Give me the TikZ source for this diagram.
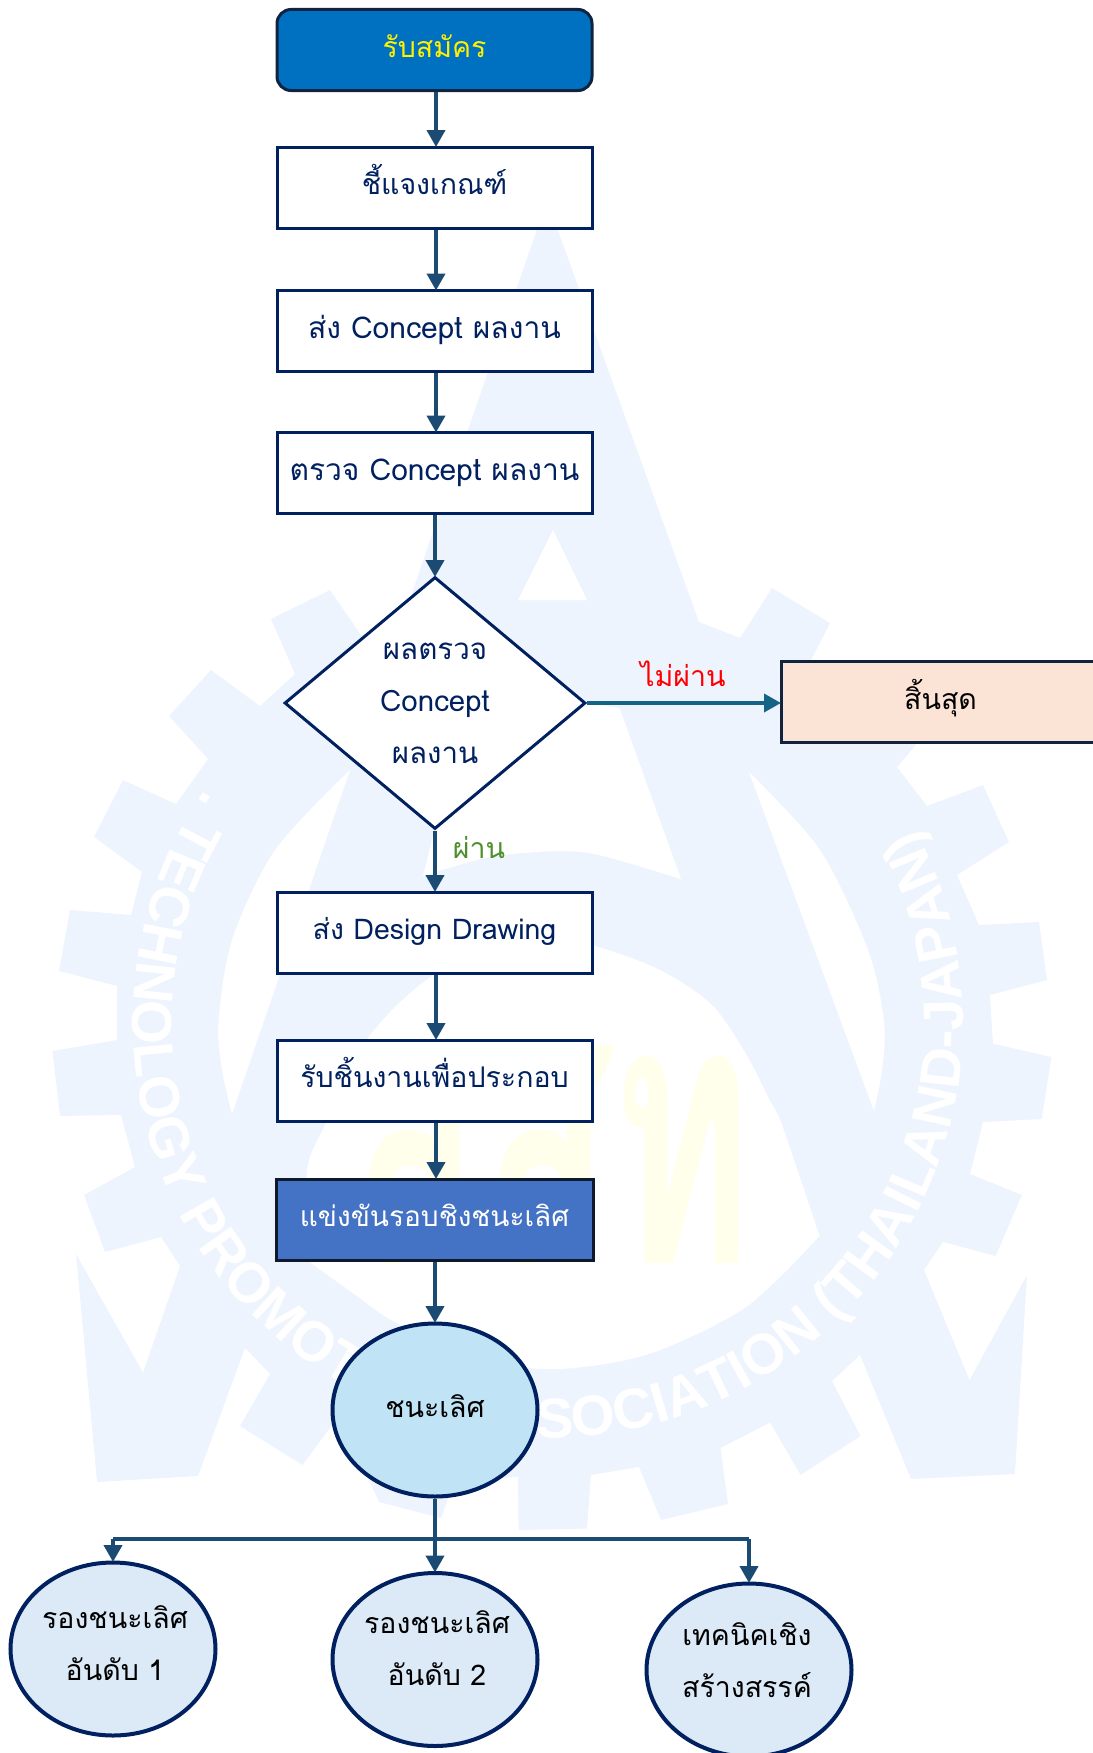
\documentclass[tikz,border=0pt]{standalone}
\usepackage{fontspec}
\usetikzlibrary{arrows.meta,shapes.geometric,decorations.text}
\newfontfamily\thaifont[Script=Thai]{Loma}
\newfontfamily\wmfont{Liberation Sans Bold}
\definecolor{navy}{HTML}{002060}
\definecolor{arrowblue}{HTML}{1B4A72}
\definecolor{tealarrow}{HTML}{156485}
\definecolor{wmblue}{HTML}{EEF4FE}
\definecolor{wmyellow}{HTML}{FFFFEC}
\definecolor{startfill}{HTML}{0070C0}
\definecolor{startedge}{HTML}{10243F}
\definecolor{endfill}{HTML}{FBE3D6}
\definecolor{finalfill}{HTML}{4472C4}
\definecolor{finaledge}{HTML}{0E1A2B}
\definecolor{winfill}{HTML}{C0E4F5}
\definecolor{subfill}{HTML}{DCE9F7}
\definecolor{passgreen}{HTML}{4C8F2B}
\newcommand{\stacked}[3]{\raisebox{#2}[0pt][0pt]{\makebox[0pt]{\hspace*{#1}\begin{tabular}{@{}c@{}}#3\end{tabular}}}}
\tikzset{
  base/.style={font=\fontsize{28.5}{52}\selectfont\thaifont,inner sep=0pt},
  oneline/.style={text height=24pt,text depth=9.4pt},
  procbox/.style={base,oneline,draw=navy,line width=3pt,fill=white,text=navy,minimum width=315pt,minimum height=81pt},
  wide/.style={font=\fontsize{30}{52}\selectfont\thaifont},
  startbox/.style={procbox,rounded corners=14pt,fill=startfill,draw=startedge,text=yellow},
  endbox/.style={procbox,fill=endfill,draw=startedge,text=black,minimum width=319pt},
  finalbox/.style={procbox,fill=finalfill,draw=finaledge,line width=3pt,text=white,minimum width=317pt,font=\fontsize{28}{52}\selectfont\thaifont},
  decision/.style={base,shape=diamond,aspect=1.19,draw=navy,line width=3pt,fill=white,text=navy,minimum width=301pt,minimum height=252pt,font=\fontsize{29.5}{52}\selectfont\thaifont},
  oval/.style={base,shape=ellipse,draw=navy,line width=4pt,text=black,minimum width=205pt,minimum height=173pt},
  flow/.style={arrowblue,line width=4pt,shorten >=-1.5pt,-{Triangle[width=18pt,length=17pt]}},
  flowteal/.style={tealarrow,line width=3.6pt,shorten >=-1.5pt,-{Triangle[width=18pt,length=17pt]}},
  branch/.style={arrowblue,line width=3.6pt,line join=miter},
  lab/.style={font=\fontsize{28.5}{30}\selectfont\thaifont,inner sep=0pt}
}
\begin{document}
\begin{tikzpicture}[x=1pt,y=-1pt]
\useasboundingbox (0,0) rectangle (1092,1753);
% --- watermark ---
\fill[wmblue] (547,200) -- (669.5,540) -- (699,622) -- (740,638) -- (772,588) -- (830,623) -- (810.6,661) -- (850,700) -- (916,745) -- (897,767) -- (927,806) -- (983,785) -- (1009,842) -- (957,875) -- (979,925) -- (1039,922) -- (1047,980) -- (990,995) -- (993,1043.6) -- (1051.6,1057) -- (1041.6,1119) -- (983,1122) -- (970,1174) -- (1022,1195) -- (995.6,1256) -- (943,1242) -- (924,1270) -- (969.5,1380) -- (1027,1275) -- (1015,1474) -- (911,1479) -- (860,1355) -- (832,1381) -- (860.6,1436) -- (800.6,1475) -- (770,1422.5) -- (720.6,1448) -- (728,1504) -- (661,1520) -- (639,1467) -- (591,1475) -- (587,1528.6) -- (518.6,1530) -- (518,1477) -- (455,1480) -- (441,1518) -- (379,1502) -- (355,1450) -- (350,1430) -- (332,1425) -- (302.5,1465) -- (240,1426) -- (270,1374) -- (245,1348) -- (198,1476) -- (97,1482) -- (76,1254) -- (143,1372.5) -- (180,1266) -- (161,1237) -- (105,1252) -- (84,1195) -- (135,1167) -- (121,1115) -- (60,1116) -- (52.5,1051) -- (117,1040) -- (117,986) -- (59,971) -- (70,910) -- (131,915) -- (142,872) -- (94,837) -- (123,780) -- (176,804) -- (208,759) -- (169,716) -- (211,670) -- (260,706) -- (295,674) -- (271,619) -- (330,590) -- (361,635) -- (400,640) -- (410,610) -- (413,590) -- cycle;
\fill[white] (518,600) -- (587,600) -- (553,530) -- cycle;
\fill[white] plot[smooth] coordinates {(350,770) (275,850) (232,940) (218.6,1022) (222,1070) (232,1114)} -- cycle;
\fill[white] plot[smooth] coordinates {(749,772) (820,850) (868,950) (884,1022) (882,1070) (874,1111)} -- cycle;
\fill[white] (423,876) -- (435,828) -- (470,720) -- (585,703) -- (619.5,708) -- (681,879) -- plot[smooth] coordinates {(681,879) (603,856) (560,851) (490,857) (423,876)} -- cycle;
\fill[white] plot[smooth] coordinates {(819.5,1236) (782,1125) (769.5,1100) (746,1054) (711,1004) (657,968.6) (585.6,943.6) (520,938) (432,976) (368,1038) (327,1121) (307,1171) (311,1263)} -- plot[smooth] coordinates {(311,1263) (357,1296) (393,1321) (470,1358) (557,1369) (650,1353.6) (746,1307) (819.5,1236)} -- cycle;
\node[font=\fontsize{370}{370}\selectfont\thaifont\bfseries,text=wmyellow,anchor=base,inner sep=0pt] (wmletters) at (551,1263) {\scalebox{0.58}[1]{สสท}};
\path[decorate,decoration={text along path,text align=center,
  text={|\wmfont\fontsize{56.5}{56.5}\selectfont\color{white}|. TECHNOLOGY PROMOTION ASSOCIATION (THAILAND-JAPAN) .}}]
  ([shift={(147:415pt)}]548pt,-1023pt) arc[start angle=147,end angle=391,radius=415pt];
% --- nodes ---
\node[startbox] (s1) at (434.5,50) {รับสมัคร};
\node[procbox] (s2) at (434.5,187.5) {ชี้แจงเกณฑ์};
\node[procbox,wide] (s3) at (434.5,331) {ส่ง Concept ผลงาน};
\node[procbox,wide] (s4) at (434.5,473) {ตรวจ Concept ผลงาน};
\node[decision] (d) at (435,703) {\stacked{0pt}{-4pt}{ผลตรวจ\\Concept\\ผลงาน}};
\node[endbox] (e) at (940.5,702) {สิ้นสุด};
\node[procbox] (s5) at (434.5,932.5) {ส่ง Design Drawing};
\node[procbox] (s6) at (434.5,1080.5) {รับชิ้นงานเพื่อประกอบ};
\node[finalbox] (s7) at (434.5,1219.5) {แข่งขันรอบชิงชนะเลิศ};
\node[oval,oneline,fill=winfill] (w) at (435,1410) {ชนะเลิศ};
\node[oval,fill=subfill] (r1) at (113,1649) {\stacked{4pt}{-1.4pt}{รองชนะเลิศ\\อันดับ 1}};
\node[oval,fill=subfill] (r2) at (435,1659.5) {\stacked{4pt}{4.6pt}{รองชนะเลิศ\\อันดับ 2}};
\node[oval,fill=subfill] (r3) at (749,1670) {\stacked{-4pt}{2.6pt}{เทคนิคเชิง\\สร้างสรรค์}};
\node[lab,text=red] (no) at (683,674) {ไม่ผ่าน};
\node[lab,text=passgreen] (yes) at (479,848) {ผ่าน};
% --- connectors ---
\draw[flow] ([xshift=1.5pt]s1.south) -- ([xshift=1.5pt]s2.north);
\draw[flow] ([xshift=1.5pt]s2.south) -- ([xshift=1.5pt]s3.north);
\draw[flow] ([xshift=1.5pt]s3.south) -- ([xshift=1.5pt]s4.north);
\draw[flow] (d.north |- s4.south) -- (d.north);
\draw[flowteal] (d.east) -- (e.west |- d.east);
\draw[flow] (d.south) -- (d.south |- s5.north);
\draw[flow] ([xshift=1.5pt]s5.south) -- ([xshift=1.5pt]s6.north);
\draw[flow] ([xshift=1.5pt]s6.south) -- ([xshift=1.5pt]s7.north);
\draw[flow] (w.north |- s7.south) -- (w.north);
\coordinate (j) at (435,1539);
\draw[flow] (w.south) -- (r2.north);
\draw[branch] (j) -- (r1.north |- j);
\draw[branch] (j) -- (r3.north |- j);
\draw[flow] (r1.north |- j) -- (r1.north);
\draw[flow] (r3.north |- j) -- (r3.north);
\end{tikzpicture}
\end{document}
